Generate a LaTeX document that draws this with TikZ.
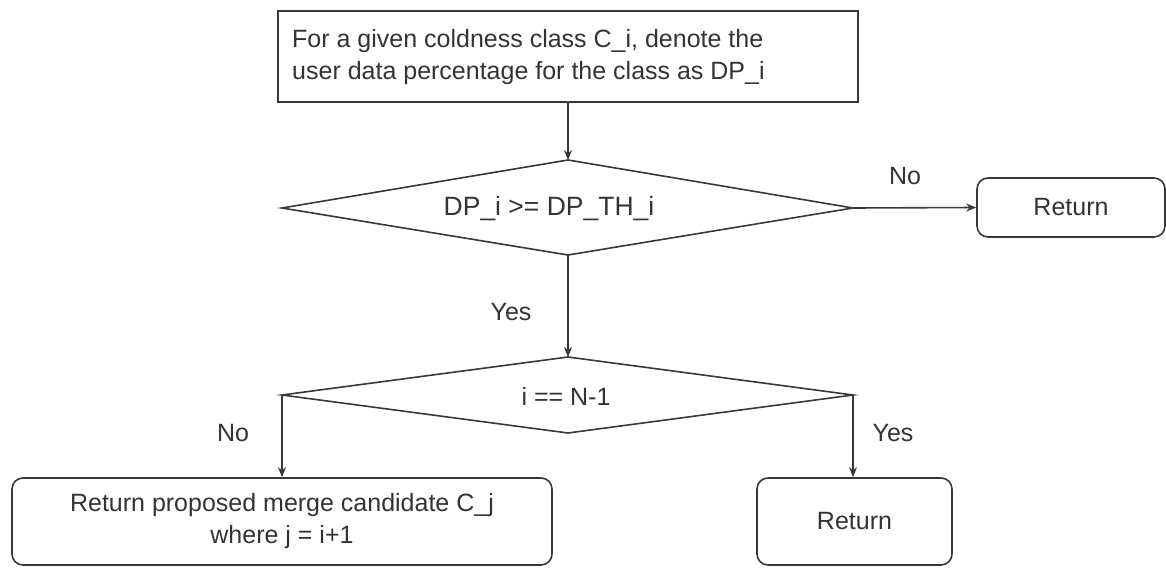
\documentclass[tikz,border=0pt]{standalone}
\usepackage{fontspec}
\setmainfont{Liberation Sans}
\usetikzlibrary{arrows.meta}
\definecolor{ink}{HTML}{333333}
\definecolor{edge}{HTML}{383838}
\begin{document}
\begin{tikzpicture}[x=1pt,y=-1pt,
  every node/.style={font=\fontsize{25}{32}\selectfont, text=ink},
  procbox/.style={draw=edge, line width=1.6pt, rectangle, inner sep=0pt},
  endbox/.style={draw=edge, line width=1.6pt, rectangle, rounded corners=11pt, inner sep=0pt},
  decision/.style={draw=edge, line width=1.6pt, line join=miter},
  flow/.style={draw=edge, line width=1.6pt, -{Stealth[length=10pt,width=8pt]}},
  tag/.style={inner sep=0pt}]
  \useasboundingbox (0,0) rectangle (1166,567);

  % process box at the top
  \node[procbox, minimum width=580pt, minimum height=91pt] (start) at (568,56.5) {};
  \node[tag, anchor=west, align=left] (starttext) at (292,57)
    {For a given coldness class C\_i, denote the\\user data percentage for the class as DP\_i};

  % first decision: corners of the rhombus
  \coordinate (d1n) at (568,160);
  \coordinate (d1e) at (853,208);
  \coordinate (d1s) at (568,255);
  \coordinate (d1w) at (282,208);
  \draw[decision] (d1n) -- (d1e) -- (d1s) -- (d1w) -- cycle;
  \node[tag, font=\fontsize{26.5}{32}\selectfont] (d1) at (549,209) {DP\_i >= DP\_TH\_i};

  \node[endbox, minimum width=188pt, minimum height=59pt] (ret1) at (1071,207.5) {Return};

  % second decision
  \coordinate (d2n) at (568,357);
  \coordinate (d2e) at (853,395);
  \coordinate (d2s) at (568,433);
  \coordinate (d2w) at (282,395);
  \draw[decision] (d2n) -- (d2e) -- (d2s) -- (d2w) -- cycle;
  \node[tag] (d2) at (566,396) {i == N-1};

  \node[endbox, minimum width=540pt, minimum height=87pt, align=center] (merge) at (282,521.5)
    {Return proposed merge candidate C\_j\\where j = i+1};
  \node[endbox, minimum width=195pt, minimum height=87pt] (ret2) at (854.5,521.5) {Return};

  % connectors
  \draw[flow] (start.south) -- (d1n);
  \draw[flow] (d1e) -- (ret1.west);
  \draw[flow] (d1s) -- (d2n);
  \draw[flow] (d2w) -- (d2w |- merge.north);
  \draw[flow] (d2e) -- (d2e |- ret2.north);

  % branch labels
  \node[tag] (lno1) at (905,176) {No};
  \node[tag] (lyes1) at (511,312) {Yes};
  \node[tag] (lno2) at (233,433) {No};
  \node[tag] (lyes2) at (893,433) {Yes};
\end{tikzpicture}
\end{document}
